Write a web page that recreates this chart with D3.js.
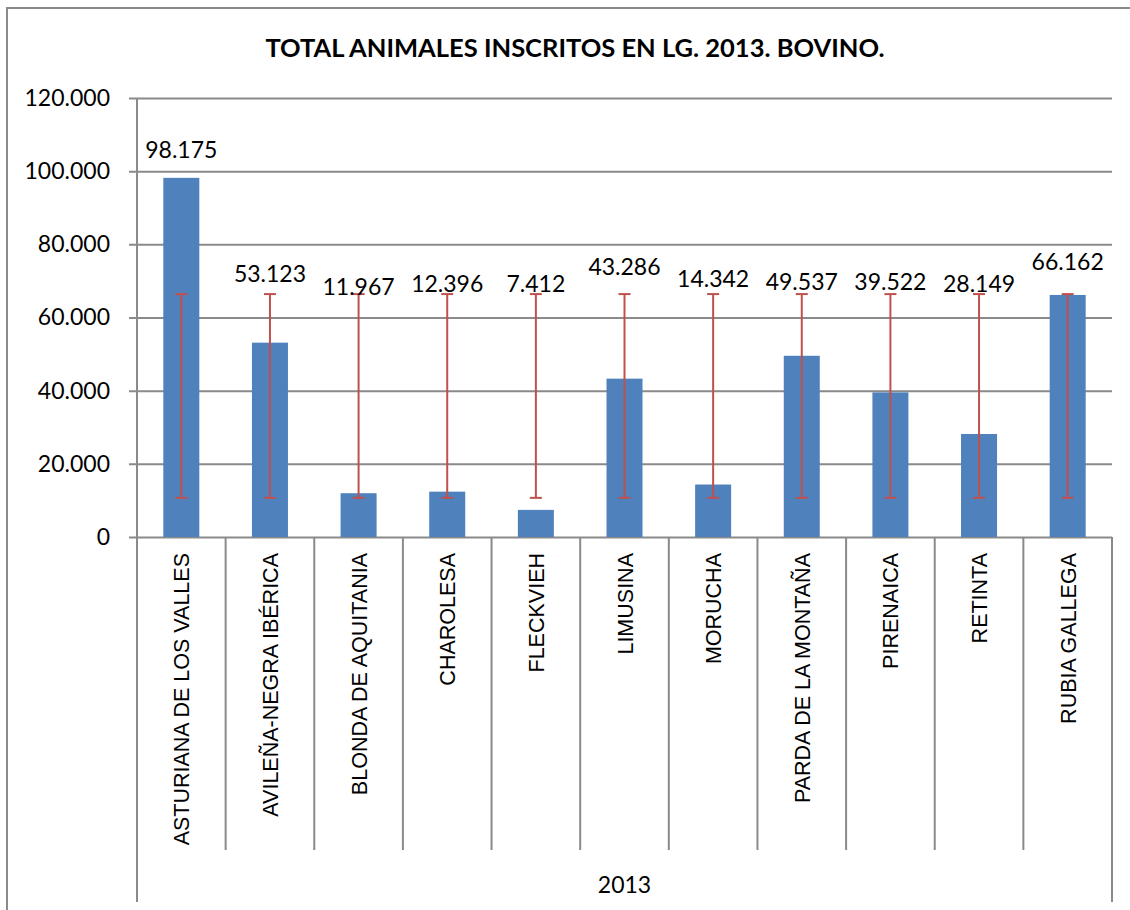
<!DOCTYPE html>
<html>
<head>
<meta charset="utf-8">
<script src="https://cdn.jsdelivr.net/npm/d3@7"></script>
<style>
  body { margin: 0; background: #fff; }
</style>
</head>
<body>
<svg width="1130" height="910"></svg>
<script>
// data
const breeds = ['ASTURIANA DE LOS VALLES', 'AVILEÑA-NEGRA IBÉRICA', 'BLONDA DE AQUITANIA', 'CHAROLESA',
  'FLECKVIEH', 'LIMUSINA', 'MORUCHA', 'PARDA DE LA MONTAÑA', 'PIRENAICA', 'RETINTA', 'RUBIA GALLEGA'];
const animals = [98175, 53123, 11967, 12396, 7412, 43286, 14342, 49537, 39522, 28149, 66162];
const errLow = [10700, 10700, 10700, 10700, 10700, 10700, 10700, 10700, 10700, 10700, 10700];
const errHigh = [66400, 66400, 66400, 66400, 66400, 66400, 66400, 66400, 66400, 66400, 66400];
const yTicks = [0, 20000, 40000, 60000, 80000, 100000, 120000];
const groupLabel = '2013';
const title = 'TOTAL ANIMALES INSCRITOS EN LG. 2013. BOVINO.';

const svg = d3.select('svg');
const margin = {top: 98, left: 137, right: 18, bottom: 373};
const width = +svg.attr('width'), height = +svg.attr('height');
const plotBottom = height - margin.bottom;   // zero line
const plotRight = width - margin.right;

const grey = '#8a8a8a';
const calibriLike = 'Lato, "Open Sans", sans-serif';

const loc = d3.formatLocale({decimal: ',', thousands: '.', grouping: [3], currency: ['', '']});
const fmt = loc.format(',d');

// outer chart border (right/bottom edges fall outside the picture)
svg.append('rect')
  .attr('x', 7).attr('y', 8)
  .attr('width', 1140).attr('height', 920)
  .attr('fill', 'none').attr('stroke', grey).attr('stroke-width', 2);

const data = breeds.map((b, i) => ({breed: b, value: animals[i], lo: errLow[i], hi: errHigh[i]}));

const x = d3.scaleBand().domain(breeds).range([margin.left, plotRight]).paddingInner(0).paddingOuter(0);
const y = d3.scaleLinear().domain([0, 120000]).range([plotBottom, margin.top]);
const barW = 36;

// title
svg.append('text')
  .attr('x', 575).attr('y', 57)
  .attr('text-anchor', 'middle')
  .attr('font-family', calibriLike).attr('font-weight', 700).attr('font-size', 25.5)
  .text(title);

// y axis with gridlines
const yAxis = d3.axisLeft(y).tickValues(yTicks).tickFormat(fmt)
  .tickSize(-(plotRight - margin.left)).tickPadding(27);
const gy = svg.append('g').attr('transform', `translate(${margin.left},0)`).call(yAxis);
gy.select('.domain').remove();
gy.selectAll('.tick line').attr('x1', -8).attr('stroke', grey).attr('stroke-width', 2);
gy.selectAll('.tick text')
  .attr('font-family', calibriLike).attr('font-size', 23).attr('fill', '#000');

// vertical axis line (extends down past the category area)
svg.append('line')
  .attr('x1', margin.left).attr('x2', margin.left)
  .attr('y1', margin.top).attr('y2', 902)
  .attr('stroke', grey).attr('stroke-width', 2);

// category separators
const bounds = breeds.slice(1).map(b => x(b));
svg.selectAll('line.sep').data(bounds).enter().append('line')
  .attr('class', 'sep')
  .attr('x1', d => d).attr('x2', d => d)
  .attr('y1', plotBottom).attr('y2', 850)
  .attr('stroke', grey).attr('stroke-width', 2);
svg.append('line')
  .attr('x1', plotRight).attr('x2', plotRight)
  .attr('y1', plotBottom).attr('y2', 902)
  .attr('stroke', grey).attr('stroke-width', 2);

// bars
svg.selectAll('rect.bar').data(data).enter().append('rect')
  .attr('class', 'bar')
  .attr('x', d => x(d.breed) + x.bandwidth() / 2 - barW / 2)
  .attr('width', barW)
  .attr('y', d => y(d.value))
  .attr('height', d => y(0) - y(d.value))
  .attr('fill', '#4F81BD');

// error bars
const err = svg.append('g').attr('stroke', '#C0504D').attr('stroke-width', 2);
data.forEach(d => {
  const cx = x(d.breed) + x.bandwidth() / 2;
  err.append('line').attr('x1', cx).attr('x2', cx).attr('y1', y(d.lo)).attr('y2', y(d.hi));
  err.append('line').attr('x1', cx - 6).attr('x2', cx + 6).attr('y1', y(d.lo)).attr('y2', y(d.lo));
  err.append('line').attr('x1', cx - 6).attr('x2', cx + 6).attr('y1', y(d.hi)).attr('y2', y(d.hi));
});

// value labels (nudged like the original, which were dragged by hand)
const labelDy = [-20, -12, 1, -2, -2, -19, -7, -4, -4, -2, -24];
svg.selectAll('text.val').data(data).enter().append('text')
  .attr('class', 'val')
  .attr('x', d => x(d.breed) + x.bandwidth() / 2)
  .attr('y', (d, i) => Math.min(y(d.value), y(d.hi)) + labelDy[i])
  .attr('text-anchor', 'middle')
  .attr('font-family', calibriLike).attr('font-size', 23)
  .text(d => fmt(d.value));

// category labels, rotated
svg.selectAll('text.cat').data(breeds).enter().append('text')
  .attr('class', 'cat')
  .attr('transform', d => `translate(${x(d) + x.bandwidth() / 2 + 8},553) rotate(-90)`)
  .attr('text-anchor', 'end')
  .attr('font-family', '"Liberation Sans", Arial, sans-serif').attr('font-size', 21.5)
  .text(d => d);

// group label
svg.append('text')
  .attr('x', (margin.left + plotRight) / 2).attr('y', 893)
  .attr('text-anchor', 'middle')
  .attr('font-family', calibriLike).attr('font-size', 23)
  .text(groupLabel);
</script>
</body>
</html>
